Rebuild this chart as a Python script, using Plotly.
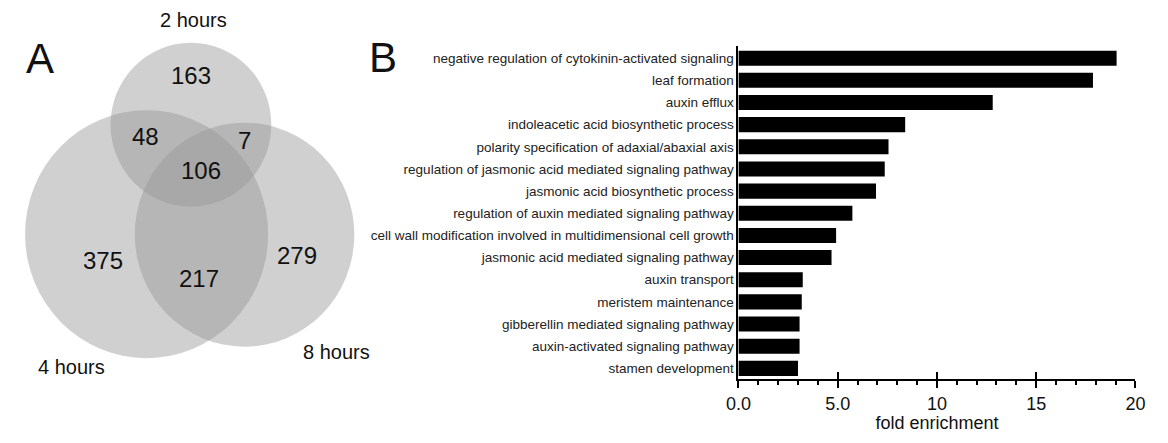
import plotly.graph_objects as go

# GO term enrichment (panel B)
terms = [
    "negative regulation of cytokinin-activated signaling",
    "leaf formation",
    "auxin efflux",
    "indoleacetic acid biosynthetic process",
    "polarity specification of adaxial/abaxial axis",
    "regulation of jasmonic acid mediated signaling pathway",
    "jasmonic acid biosynthetic process",
    "regulation of auxin mediated signaling pathway",
    "cell wall modification involved in multidimensional cell growth",
    "jasmonic acid mediated signaling pathway",
    "auxin transport",
    "meristem maintenance",
    "gibberellin mediated signaling pathway",
    "auxin-activated signaling pathway",
    "stamen development",
]
fold_enrichment = [19.05, 17.86, 12.81, 8.40, 7.56, 7.37, 6.93, 5.74,
                   4.92, 4.69, 3.24, 3.19, 3.08, 3.08, 3.00]
x_tick_vals = [0, 5, 10, 15, 20]
x_tick_text = ["0.0", "5.0", "10", "15", "20"]

# Venn diagram counts (panel A)
venn_sets = ["2 hours", "4 hours", "8 hours"]
venn_regions = ["2h only", "2h&4h", "2h&8h", "all", "4h only", "4h&8h", "8h only"]
venn_counts = [163, 48, 7, 106, 375, 217, 279]

W, H = 1168, 443
FONT = "Liberation Sans, Arial, Helvetica, sans-serif"

fig = go.Figure()

fig.add_trace(go.Bar(
    x=fold_enrichment, y=terms, orientation="h",
    marker=dict(color="black", line=dict(width=0)),
    xaxis="x", yaxis="y", showlegend=False,
))

bar_dom_x = [740 / W, 1145 / W]
bar_dom_y = [1 - 379 / H, 1 - 46 / H]

# Venn circles drawn on a full-canvas pixel coordinate system
circles = {
    "2 hours": (181.5, 124.7, 82),
    "4 hours": (136.3, 234.2, 124),
    "8 hours": (236.2, 234.7, 112),
}
for name in venn_sets:
    cx, cy, r = circles[name]
    fig.add_shape(type="circle", xref="x2", yref="y2",
                  x0=cx - r, x1=cx + r, y0=cy - r, y1=cy + r,
                  fillcolor="rgba(150,150,150,0.45)", line=dict(width=0),
                  layer="below")

count_pos = {
    "2h only": (181.7, 75),
    "2h&4h": (135, 136.7),
    "2h&8h": (236, 140),
    "all": (191.7, 170),
    "4h only": (91.7, 260),
    "4h&8h": (190, 278.3),
    "8h only": (290, 255),
}
for region, n in zip(venn_regions, venn_counts):
    px, py = count_pos[region]
    fig.add_annotation(x=px, y=py, xref="x2", yref="y2", text=str(n),
                       showarrow=False, font=dict(size=24, color="#111", family=FONT))

set_label_pos = {"2 hours": (184, 20), "4 hours": (60, 367), "8 hours": (330, 352)}
for name in venn_sets:
    px, py = set_label_pos[name]
    fig.add_annotation(x=px, y=py, xref="x2", yref="y2", text=name,
                       showarrow=False, font=dict(size=20, color="#111", family=FONT))

# Panel letters
fig.add_annotation(x=27.5, y=58.5, xref="x2", yref="y2", text="A", showarrow=False,
                   font=dict(size=42, color="#111", family=FONT))
fig.add_annotation(x=377.7, y=57, xref="x2", yref="y2", text="B", showarrow=False,
                   font=dict(size=42, color="#111", family=FONT))

fig.update_layout(
    width=W, height=H,
    margin=dict(l=0, r=0, t=0, b=0),
    paper_bgcolor="white", plot_bgcolor="rgba(0,0,0,0)",
    bargap=0.32,
    font=dict(family=FONT, color="#111"),
    xaxis=dict(
        domain=bar_dom_x, range=[0, 20], anchor="y",
        tickvals=x_tick_vals, ticktext=x_tick_text,
        ticks="outside", ticklen=7, tickwidth=1.8, tickcolor="black",
        minor=dict(dtick=1, ticks="outside", ticklen=4, tickwidth=1.5, tickcolor="black"),
        showline=True, linecolor="black", linewidth=1.8,
        showgrid=False, zeroline=False,
        tickfont=dict(size=18, color="#111"),
        title=dict(text="fold enrichment", font=dict(size=18, color="#111"), standoff=4),
    ),
    xaxis3=dict(
        overlaying="x", matches="x", anchor="y",
        tickvals=x_tick_vals, showticklabels=False,
        ticks="inside", ticklen=7, tickwidth=1.8, tickcolor="black",
        showline=False, showgrid=False, zeroline=False,
    ),
    yaxis=dict(
        domain=bar_dom_y, range=[14.48, -0.55], anchor="x",
        showline=True, linecolor="black", linewidth=1.8,
        ticks="", showgrid=False, zeroline=False,
        tickfont=dict(size=13.5, color="#222"), ticklabelstandoff=0,
    ),
    xaxis2=dict(domain=[0, 1], range=[0, W], visible=False, anchor="y2",
                fixedrange=True),
    yaxis2=dict(domain=[0, 1], range=[H, 0], visible=False, anchor="x2",
                fixedrange=True),
)

# invisible trace to activate the overlay x-axis carrying the upward tick marks
fig.add_trace(go.Scatter(x=[0, 20], y=[terms[0], terms[0]], xaxis="x3", yaxis="y",
                         mode="markers", marker=dict(opacity=0), showlegend=False,
                         hoverinfo="skip"))
# invisible trace to activate the pixel canvas axes
fig.add_trace(go.Scatter(x=[0, W], y=[0, H], xaxis="x2", yaxis="y2",
                         mode="markers", marker=dict(opacity=0), showlegend=False,
                         hoverinfo="skip"))

# let the figure sit flush in the page
fig.write_html(
    "out.html",
    post_script="document.body.style.margin='0';document.body.style.overflow='hidden';",
)
